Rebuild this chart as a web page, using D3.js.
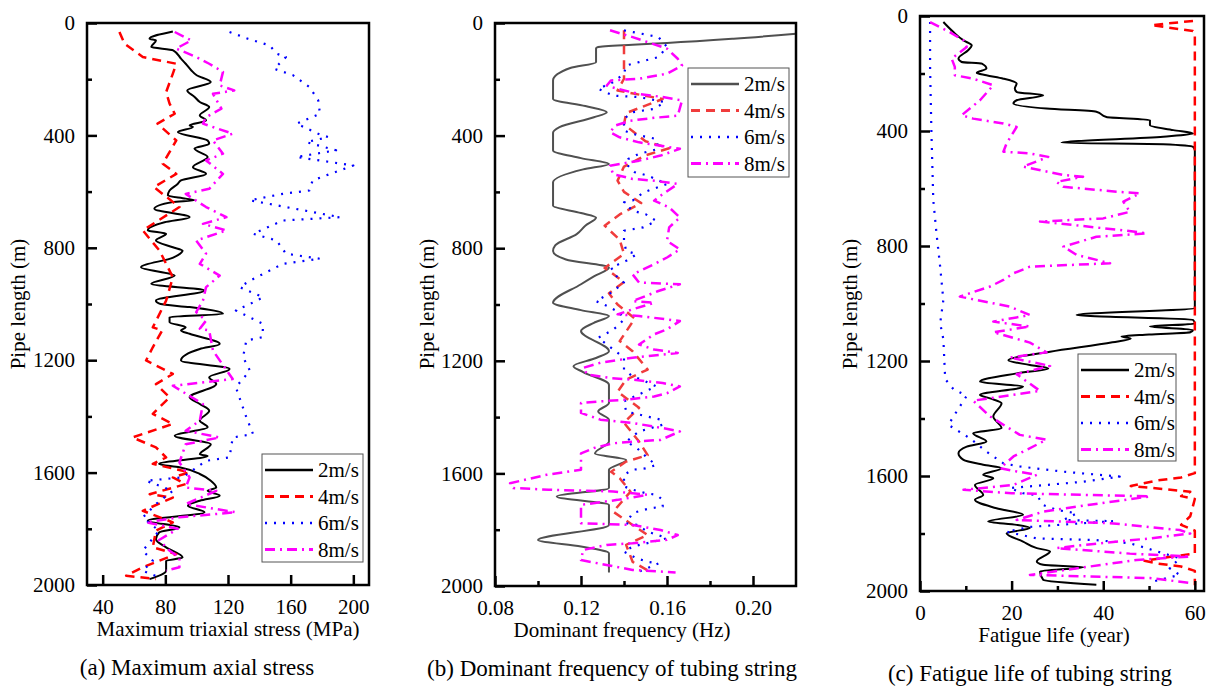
<!DOCTYPE html>
<html>
<head>
<meta charset="utf-8">
<script src="https://cdn.jsdelivr.net/npm/d3@7/dist/d3.min.js"></script>
<style>
  body { margin: 0; background: #fff; }
  svg text { font-family: "Liberation Serif", "Times New Roman", serif; fill: #000; }
</style>
</head>
<body>
<script>
// ---- data: [depth (m), value] ----
var seriesNames = ['2m/s', '4m/s', '6m/s', '8m/s'];
var depthTicks = [0, 400, 800, 1200, 1600, 2000];
var depthMinor = [200, 600, 1000, 1400, 1800];

// (a) maximum triaxial stress (MPa)
var stress2 = [[30,84.8],[56,69.9],[62,74],[85,71],[97,85],[127,90],[145,93],[168,96.5],[186,100],[210,109],[240,94],[263,98.7],[281,102],[299,108],[329,102],[347,106],[364,95.5],[370,97.6],[388,88],[418,107],[430,108],[447,98.6],[477,107],[513,97.6],[537,106],[560,90],[572,88],[596,82.7],[614,81.6],[625,93],[631,98.6],[637,84.8],[661,73],[691,95.5],[709,79.5],[738,68.8],[750,80.5],[774,74],[798,84.8],[810,91],[835,85],[869,64.5],[899,86],[928,71],[952,105],[988,74],[1000,77],[1011,95.5],[1035,116.8],[1047,82.7],[1065,82.7],[1083,93],[1094,90],[1106,95.5],[1142,114.7],[1160,102],[1201,90],[1231,121],[1261,108],[1285,112.5],[1332,95.5],[1356,102],[1380,108],[1415,102],[1439,107],[1469,86],[1499,109],[1535,102],[1541,107],[1569,76],[1581,89],[1605,102],[1629,109],[1653,112.5],[1665,107],[1682,114.7],[1700,102],[1718,94.4],[1741,105],[1771,68.8],[1795,89],[1813,76],[1837,74],[1866,80.5],[1902,91],[1914,80.5],[1949,80.5],[1979,69.9]];
var stress4 = [[32,50.7],[74,54],[121,65.6],[145,87],[180,84.8],[246,80.5],[287,82.7],[323,86],[358,75],[418,87],[501,78.4],[537,87],[584,72.7],[655,89],[738,65.6],[810,76.3],[905,84.8],[988,80.5],[1035,76.3],[1083,72],[1094,78],[1154,72],[1201,67.7],[1249,84.8],[1285,74],[1332,82.7],[1391,72],[1427,84.8],[1475,59],[1510,74],[1546,80.5],[1569,72],[1599,95.5],[1617,84.8],[1641,93],[1677,70],[1689,84.8],[1736,65.6],[1777,84.8],[1807,74],[1866,72],[1890,87],[1937,65.6],[1967,55],[1979,74]];
var stress6 = [[32,121],[56,132.7],[80,146.7],[109,151],[121,157],[163,149.5],[186,161.6],[228,172],[275,177.6],[323,178.7],[358,163.7],[394,177.6],[406,184],[424,170],[453,189],[477,163.7],[507,200],[560,174],[596,172],[608,155],[631,134],[655,157],[691,191.5],[703,155],[750,136],[774,151],[821,157],[839,178.7],[857,155],[917,134],[940,127.5],[976,142.4],[1000,134],[1023,125],[1071,142.4],[1118,142],[1130,131.7],[1189,129.6],[1237,134],[1296,125],[1403,131.7],[1463,136],[1475,123],[1546,121],[1558,106],[1617,91],[1629,67.7],[1665,84.8],[1712,74],[1760,65.6],[1807,76],[1878,65.6],[1914,72],[1949,65.6],[1973,76]];
var stress8 = [[32,86],[62,96.6],[91,86.9],[121,99.7],[145,108],[174,116.8],[222,114.7],[240,124],[252,110.4],[305,115.8],[335,106],[358,104],[394,123],[418,110.4],[465,116.8],[489,106],[537,116.8],[590,108],[608,93],[655,106],[691,119],[715,104],[738,119],[774,99.7],[821,106],[857,102],[899,114.7],[940,106],[988,104],[1029,99.7],[1059,106],[1088,102],[1094,108],[1166,110.4],[1267,123],[1291,84.8],[1356,104],[1415,102],[1451,93],[1475,114.7],[1499,93],[1564,89],[1617,95.5],[1653,93],[1665,112.5],[1712,93],[1741,125],[1759,89],[1777,67.7],[1800,88],[1840,76],[1878,82.7],[1902,89],[1937,89],[1949,80.5]];

// (b) dominant frequency (Hz)
var freq2 = [[38,0.22],[56,0.191],[71,0.160],[77,0.144],[85,0.128],[90,0.127],[139,0.127],[160,0.115],[204,0.107],[270,0.107],[295,0.122],[317,0.132],[335,0.126],[370,0.110],[390,0.107],[453,0.107],[480,0.120],[501,0.133],[520,0.121],[566,0.107],[649,0.107],[675,0.120],[691,0.127],[720,0.122],[750,0.118],[790,0.108],[810,0.107],[840,0.113],[869,0.133],[900,0.126],[928,0.120],[994,0.107],[1020,0.120],[1041,0.133],[1065,0.126],[1094,0.120],[1166,0.133],[1190,0.127],[1219,0.1165],[1240,0.121],[1285,0.133],[1350,0.133],[1380,0.128],[1409,0.133],[1487,0.133],[1529,0.1265],[1552,0.141],[1587,0.133],[1652,0.133],[1682,0.1087],[1712,0.133],[1783,0.133],[1837,0.1],[1860,0.120],[1884,0.133],[1952,0.133]];
var freq4 = [[26,0.140],[198,0.140],[240,0.137],[270,0.158],[320,0.141],[360,0.140],[420,0.150],[445,0.161],[470,0.150],[510,0.140],[560,0.137],[600,0.140],[640,0.148],[680,0.138],[720,0.131],[770,0.138],[820,0.140],[870,0.131],[920,0.140],[960,0.133],[1000,0.137],[1050,0.145],[1130,0.138],[1166,0.144],[1231,0.151],[1267,0.141],[1310,0.137],[1367,0.147],[1420,0.140],[1487,0.147],[1535,0.151],[1558,0.141],[1594,0.134],[1617,0.138],[1665,0.143],[1736,0.135],[1783,0.144],[1819,0.151],[1854,0.141],[1914,0.144],[1949,0.152]];
var freq6 = [[26,0.140],[50,0.156],[85,0.160],[121,0.156],[139,0.147],[151,0.141],[180,0.140],[210,0.135],[234,0.128],[258,0.135],[263,0.147],[281,0.159],[305,0.154],[317,0.144],[340,0.140],[382,0.140],[394,0.144],[412,0.155],[447,0.156],[465,0.147],[483,0.142],[501,0.141],[530,0.145],[542,0.151],[572,0.160],[602,0.149],[631,0.144],[637,0.140],[667,0.144],[679,0.150],[703,0.155],[726,0.149],[738,0.140],[774,0.140],[810,0.141],[821,0.146],[845,0.141],[869,0.134],[905,0.137],[922,0.140],[958,0.134],[988,0.127],[1005,0.132],[1029,0.138],[1053,0.140],[1077,0.137],[1094,0.134],[1118,0.128],[1148,0.133],[1189,0.140],[1231,0.140],[1255,0.144],[1273,0.150],[1291,0.155],[1344,0.140],[1380,0.141],[1409,0.157],[1427,0.158],[1451,0.147],[1487,0.141],[1510,0.146],[1546,0.151],[1570,0.155],[1582,0.150],[1587,0.144],[1605,0.140],[1646,0.140],[1658,0.144],[1670,0.150],[1676,0.155],[1694,0.158],[1718,0.158],[1724,0.152],[1741,0.144],[1777,0.141],[1783,0.146],[1807,0.151],[1830,0.160],[1842,0.154],[1860,0.144],[1878,0.140],[1902,0.146],[1914,0.151],[1920,0.156],[1949,0.147]];
var freq8 = [[26,0.1335],[50,0.144],[91,0.160],[127,0.165],[151,0.167],[180,0.160],[198,0.147],[204,0.134],[222,0.132],[234,0.137],[252,0.147],[263,0.158],[275,0.167],[329,0.165],[337,0.154],[347,0.143],[364,0.136],[388,0.1335],[406,0.138],[424,0.147],[436,0.157],[447,0.166],[471,0.157],[489,0.147],[507,0.1335],[537,0.135],[554,0.144],[560,0.154],[572,0.165],[608,0.158],[631,0.154],[655,0.161],[691,0.166],[726,0.161],[774,0.160],[804,0.166],[833,0.160],[857,0.154],[893,0.144],[922,0.147],[928,0.166],[952,0.156],[988,0.144],[994,0.154],[1017,0.144],[1035,0.137],[1041,0.147],[1053,0.160],[1059,0.166],[1088,0.160],[1106,0.154],[1142,0.147],[1160,0.154],[1172,0.165],[1189,0.144],[1207,0.129],[1225,0.121],[1249,0.123],[1261,0.1335],[1267,0.144],[1279,0.158],[1291,0.166],[1315,0.160],[1327,0.154],[1338,0.141],[1344,0.129],[1350,0.120],[1385,0.120],[1409,0.129],[1421,0.144],[1439,0.158],[1451,0.166],[1481,0.157],[1487,0.144],[1493,0.135],[1510,0.126],[1529,0.120],[1587,0.120],[1605,0.104],[1635,0.087],[1652,0.0885],[1658,0.105],[1661,0.120],[1664,0.135],[1676,0.151],[1694,0.137],[1712,0.120],[1777,0.120],[1783,0.144],[1801,0.157],[1819,0.165],[1836,0.160],[1848,0.144],[1854,0.132],[1872,0.121],[1908,0.120],[1926,0.1325],[1943,0.144],[1952,0.164]];

// (c) fatigue life (year)
var life2 = [[21,5.1],[56,7.3],[85,9.5],[102,11.3],[119,10.5],[148,8.4],[160,9.1],[166,13.5],[183,14.5],[198,12.4],[206,14.5],[218,18.2],[235,21.1],[252,20.7],[264,21.1],[276,26.9],[293,21.1],[304,20.4],[322,27.6],[333,38.5],[351,40.7],[362,50.2],[380,50.2],[397,55.3],[409,59.6],[420,53.1],[441,30.9],[446,53.1],[455,59.6],[467,60],[1016,60],[1040,34.2],[1057,59.6],[1070,60],[1080,50.2],[1092,59.6],[1100,59],[1108,50],[1115,44],[1122,46],[1135,42],[1168,28.4],[1197,19.3],[1214,24],[1226,28],[1243,21.1],[1272,13.1],[1289,22.5],[1318,13.1],[1330,15.3],[1347,17.8],[1393,16],[1434,17.8],[1451,11.6],[1480,14.5],[1498,10.2],[1521,8.4],[1544,9.5],[1561,13.8],[1573,17.8],[1596,13.8],[1608,16],[1631,12],[1666,13.8],[1683,12],[1712,16.7],[1735,22.5],[1758,14.9],[1770,21.1],[1781,24],[1799,18.9],[1828,22.5],[1851,25.5],[1862,28.4],[1897,25.5],[1909,26.9],[1917,35.6],[1932,26.2],[1961,26.9],[1978,38.5]];
var life4 = [[17,59.6],[32,50.5],[52,59.6],[61,60],[1590,60],[1605,57],[1615,52],[1635,46],[1645,53],[1655,59],[1670,57],[1680,60],[1740,59],[1770,57],[1790,60],[1870,60],[1880,55],[1895,49],[1905,52],[1915,57],[1930,60],[1980,60]];
var life6 = [[21,2.2],[177,2.2],[409,2.5],[640,2.9],[756,3.6],[872,4.4],[988,5.1],[1069,4.4],[1124,5.1],[1263,5.5],[1298,7.3],[1321,10.2],[1393,7.3],[1422,6.2],[1469,10.9],[1515,14.5],[1556,18.2],[1567,21.8],[1585,31.3],[1602,43.6],[1620,35.6],[1642,19.6],[1660,22.5],[1666,25.5],[1701,26.9],[1718,29.8],[1730,34.2],[1753,31.3],[1757,42.2],[1777,24],[1794,18.9],[1817,25.5],[1823,38.5],[1834,45.8],[1851,49.5],[1869,53.1],[1886,56.7],[1921,54.5],[1944,56.7],[1967,50.9]];
var life8 = [[21,2.2],[56,6.5],[85,9.5],[108,10.2],[148,6.9],[177,7.6],[206,7.6],[218,11.6],[241,16],[293,13.1],[345,9.1],[357,11.6],[374,18.2],[386,21.1],[443,18.9],[472,18.2],[478,24],[490,28],[524,22.5],[553,31.3],[559,35.6],[577,29.8],[594,31.3],[611,42.9],[617,48],[646,44.4],[681,45.8],[704,40],[715,26.2],[744,43.6],[756,49.5],[768,38.5],[802,31.3],[831,34.2],[860,41.5],[872,24],[895,20.4],[918,18.2],[941,15.3],[976,8.7],[1011,19.6],[1040,24],[1063,16],[1080,24],[1100,16],[1136,24],[1170,27.6],[1188,19.6],[1217,28.4],[1246,21.1],[1304,26.2],[1338,11.6],[1393,15.3],[1457,21.8],[1474,27.6],[1532,20.4],[1573,17.5],[1584,21.1],[1596,25.5],[1631,20.4],[1648,9.5],[1660,20],[1671,50.2],[1700,37.1],[1724,26.9],[1753,21.1],[1764,41.5],[1788,56.7],[1800,59],[1817,50.2],[1840,35.6],[1851,29.8],[1870,45.8],[1880,59],[1892,47.3],[1944,24],[1955,50.2],[1973,59.6]];

var stressTicks = [40, 80, 120, 160, 200];
var freqTicks = [0.08, 0.12, 0.16, 0.20];
var freqMinor = [0.10, 0.14, 0.18];
var lifeTicks = [0, 20, 40, 60];
var lifeMinor = [10, 30, 50];

// ---- drawing ----
var font = '"Liberation Serif", "Times New Roman", serif';

var svg = d3.select('body').append('svg')
    .attr('width', 1214)
    .attr('height', 687)
    .attr('font-family', font);

var styles = [
  {color: '#000', width: 2, dash: null, smooth: true},
  {color: '#ff0000', width: 2.5, dash: '9,6', smooth: false},
  {color: '#0000ff', width: 2.2, dash: '2,7', smooth: false},
  {color: '#ff00ff', width: 2.5, dash: '10,5,2,5', smooth: false}
];

function cleanAxis(a) {
  a.attr('font-family', font).attr('font-size', 21);
  a.select('.domain').remove();
  a.selectAll('.tick line').attr('stroke', '#000').attr('stroke-width', 2.5);
}

function drawPanel(p) {
  var x = d3.scaleLinear().domain(p.xDomain).range([p.left, p.right]);
  var y = d3.scaleLinear().domain([0, 2000]).range([p.top, p.bottom]);
  var g = svg.append('g');

  // series
  p.series.forEach(function(data, i) {
    var st = styles[i];
    var line = d3.line()
      .x(function(d) { return x(d[1]); })
      .y(function(d) { return y(d[0]); })
      .curve(st.smooth ? d3.curveMonotoneY : d3.curveLinear);
    g.append('path')
      .datum(data)
      .attr('d', line)
      .attr('fill', 'none')
      .attr('stroke', (p.colors && p.colors[i]) || st.color)
      .attr('stroke-width', st.width)
      .attr('stroke-dasharray', st.dash)
      .attr('stroke-linejoin', 'round');
  });

  // axes (ticks inward)
  g.append('g')
    .attr('transform', 'translate(' + p.left + ',0)')
    .call(d3.axisLeft(y).tickValues(depthTicks).tickSize(-10).tickPadding(12)
      .tickFormat(d3.format('d')))
    .call(cleanAxis);
  g.append('g')
    .attr('transform', 'translate(' + p.left + ',0)')
    .call(d3.axisLeft(y).tickValues(depthMinor).tickSize(-5).tickFormat(''))
    .call(cleanAxis);
  g.append('g')
    .attr('transform', 'translate(0,' + p.bottom + ')')
    .call(d3.axisBottom(x).tickValues(p.xTicks).tickSize(-10).tickPadding(14)
      .tickFormat(p.fmt))
    .call(cleanAxis);
  if (p.xMinor) {
    g.append('g')
      .attr('transform', 'translate(0,' + p.bottom + ')')
      .call(d3.axisBottom(x).tickValues(p.xMinor).tickSize(-5).tickFormat(''))
      .call(cleanAxis);
  }

  g.append('rect')
    .attr('x', p.left).attr('y', p.top)
    .attr('width', p.right - p.left).attr('height', p.bottom - p.top)
    .attr('fill', 'none').attr('stroke', '#000').attr('stroke-width', 2.5);

  // titles
  g.append('text')
    .attr('transform', 'translate(' + p.yTitleX + ',304) rotate(-90)')
    .attr('text-anchor', 'middle').attr('dominant-baseline', 'central')
    .attr('font-size', 21).text('Pipe length (m)');
  g.append('text')
    .attr('x', p.xTitleX).attr('y', p.bottom + 51)
    .attr('text-anchor', 'middle').attr('font-size', 21).text(p.xTitle);
  g.append('text')
    .attr('x', p.capX).attr('y', p.bottom + 90)
    .attr('text-anchor', 'middle').attr('font-size', 23).text(p.caption);

  // legend
  var L = p.legend;
  g.append('rect')
    .attr('x', L.x).attr('y', L.y).attr('width', L.w).attr('height', L.h)
    .attr('fill', '#fff').attr('stroke', '#555').attr('stroke-width', 1);
  seriesNames.forEach(function(name, i) {
    var st = styles[i];
    var ry = L.y + 16 + i * 26.5;
    g.append('line')
      .attr('x1', L.x + 3).attr('x2', L.x + 51)
      .attr('y1', ry).attr('y2', ry)
      .attr('stroke', (p.colors && p.colors[i]) || st.color)
      .attr('stroke-width', st.width + 0.5)
      .attr('stroke-dasharray', st.dash);
    g.append('text')
      .attr('x', L.x + 56).attr('y', ry)
      .attr('dominant-baseline', 'central')
      .attr('font-size', 21).text(name);
  });
}

drawPanel({
  left: 87, right: 369, top: 23, bottom: 585,
  xDomain: [30, 210], xTicks: stressTicks, fmt: d3.format('d'),
  series: [stress2, stress4, stress6, stress8],
  yTitleX: 18, xTitle: 'Maximum triaxial stress (MPa)', xTitleX: 228,
  caption: '(a) Maximum axial stress', capX: 197,
  legend: {x: 262, y: 454, w: 101, h: 108}
});

drawPanel({
  left: 495, right: 796, top: 23, bottom: 586,
  xDomain: [0.08, 0.22], xTicks: freqTicks, xMinor: freqMinor, fmt: d3.format('.2f'),
  series: [freq2, freq4, freq6, freq8],
  colors: ['#505050', '#f03c3c', null, null],
  yTitleX: 427, xTitle: 'Dominant frequency (Hz)', xTitleX: 622,
  caption: '(b) Dominant frequency of tubing string', capX: 612,
  legend: {x: 688, y: 68, w: 101, h: 109}
});

drawPanel({
  left: 920, right: 1204, top: 16, bottom: 591,
  xDomain: [0, 62], xTicks: lifeTicks, xMinor: lifeMinor, fmt: d3.format('d'),
  series: [life2, life4, life6, life8],
  yTitleX: 850, xTitle: 'Fatigue life (year)', xTitleX: 1054,
  caption: '(c) Fatigue life of tubing string', capX: 1030,
  legend: {x: 1078, y: 354, w: 98, h: 107}
});
</script>
</body>
</html>
